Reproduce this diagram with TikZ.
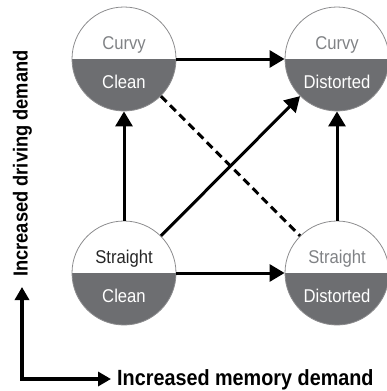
\documentclass[tikz,border=0pt]{standalone}
\usepackage{fontspec}
\setmainfont{Liberation Sans}
\newfontfamily\narrowfont{Liberation Sans}[FakeStretch=0.9]
\usetikzlibrary{arrows.meta}

\definecolor{statefill}{RGB}{109,110,113}
\definecolor{uptextcol}{RGB}{128,130,133}
\definecolor{rimcol}{RGB}{140,140,142}

\tikzset{
  state/.style={circle,draw=rimcol,line width=0.8pt,minimum size=104pt,inner sep=0pt,
    path picture={\fill[statefill] (path picture bounding box.west) rectangle (path picture bounding box.south east);}},
  uptext/.style={anchor=base,text=uptextcol,font=\narrowfont\fontsize{18.5}{20}\selectfont,inner sep=0pt},
  lowtext/.style={anchor=base,text=white,font=\narrowfont\fontsize{18.5}{20}\selectfont,inner sep=0pt},
  link/.style={line width=3pt,-{Triangle[length=15pt,width=17pt]}},
  dashline/.style={line width=3pt,dash pattern=on 8pt off 5pt},
  axis/.style={line width=3.5pt,line join=miter,{Triangle[length=13pt,width=14pt]}-{Triangle[length=13pt,width=14pt]}},
  axlabel/.style={inner sep=0pt}
}

\begin{document}
\begin{tikzpicture}[x=1pt,y=-1pt]
\path[use as bounding box] (0,0) rectangle (386,391);

% the four states
\foreach \n/\x/\y/\up/\low/\col in {cc/124/59/Curvy/Clean/uptextcol,cd/337/59/Curvy/Distorted/uptextcol,sc/124/273/Straight/Clean/black!85,sd/337/273/Straight/Distorted/uptextcol}{
  \node[state] (\n) at (\x,\y) {};
  \node[uptext,text=\col] (\n-up) at ([yshift=9.5pt]\n.center) {\up};
  \node[lowtext] (\n-low) at ([yshift=-29pt]\n.center) {\low};
}

\draw[link] (cc) -- (cd);
\draw[link] (sc) -- (cc);
\draw[link] (sc) -- (sd);
\draw[link] (sd) -- (cd);
\draw[link] (sc) -- (cd);
\draw[dashline] (cc) -- (sd);

% axes
\coordinate (origin) at (22,379);
\coordinate (ytip) at (22,287);
\coordinate (xtip) at (111,379);
\draw[axis] (ytip) -- (origin) -- (xtip);
\node[axlabel,anchor=base west,font=\narrowfont\bfseries\fontsize{22}{24}\selectfont] (xlab) at (117,385) {Increased memory demand};
\node[axlabel,anchor=base,rotate=90,font=\narrowfont\bfseries\fontsize{20.3}{22}\selectfont] (ylab) at (27.5,163.5) {Increased driving demand};
\end{tikzpicture}
\end{document}
